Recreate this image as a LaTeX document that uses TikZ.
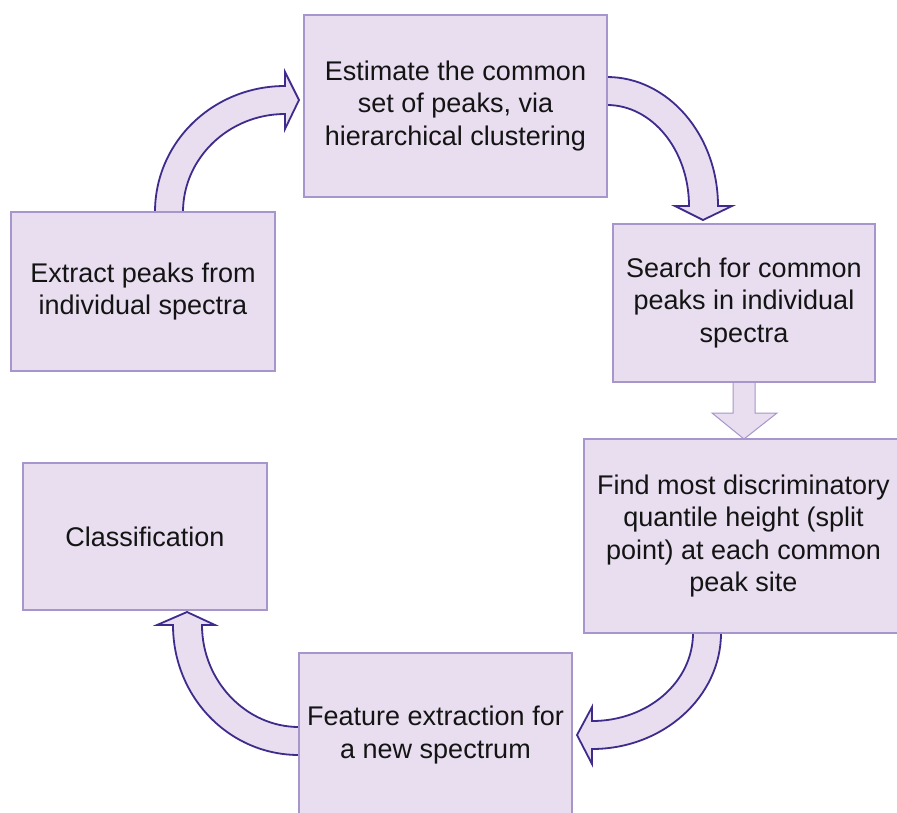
\documentclass[tikz,border=0pt]{standalone}
\usepackage{fontspec}
\setmainfont{Liberation Sans}
\definecolor{boxfill}{HTML}{E8DEEF}
\definecolor{boxline}{HTML}{A796CB}
\definecolor{arrline}{HTML}{3F2B8C}
\tikzset{
  stepbox/.style={draw=boxline, line width=1.4pt, fill=boxfill, inner sep=0pt,
    align=center, text=black!92, font={\fontsize{27}{32.5}\selectfont}},
  bigarrow/.style={draw=arrline, line width=1.8pt, fill=boxfill, line join=miter},
  straightarrow/.style={draw=boxline, line width=1pt, fill=boxfill}
}
\begin{document}
\begin{tikzpicture}[x=1pt, y=-1pt]
\clip (0,0) rectangle (897,812);
\fill[white] (0,0) rectangle (897,812);
% curved arrows (drawn first, boxes cover their roots)
\draw[bigarrow] (155,216) -- (155,212) .. controls (155,142) and (213,86) .. (285,86)
  -- (285,72) -- (299,100) -- (285,129) -- (285,114)
  .. controls (229,114) and (183,158) .. (183,212) -- (183,216);
\draw[bigarrow] (603,77) -- (607,77) .. controls (668,77) and (718,135) .. (718,206)
  -- (732,206) -- (703,220) -- (675,206) -- (689,206)
  .. controls (689,150) and (652,105) .. (607,105) -- (603,105);
\draw[bigarrow] (693,629) -- (693,633) .. controls (693,682) and (648,721) .. (592,721)
  -- (592,707) -- (577,735) -- (592,764) -- (592,749)
  .. controls (663,749) and (721,697) .. (721,633) -- (721,629);
\draw[bigarrow] (303,727) -- (299,727) .. controls (246,727) and (202,681) .. (202,625)
  -- (215,625) -- (187,612) -- (157,625) -- (173,625)
  .. controls (173,697) and (229,755) .. (299,755) -- (303,755);
\draw[straightarrow] (733,380) -- (755,380) -- (755,413) -- (777,413) -- (744,439)
  -- (712,413) -- (733,413) -- cycle;
% boxes
\node[stepbox, minimum width=303pt, minimum height=182pt] (est) at (455.5,106)
  {Estimate the common\\set of peaks, via\\hierarchical clustering};
\node[stepbox, minimum width=264pt, minimum height=159pt] (ext) at (143,291.5)
  {Extract peaks from\\individual spectra};
\node[stepbox, minimum width=262pt, minimum height=158pt] (srch) at (744,303)
  {Search for common\\peaks in individual\\spectra};
\node[stepbox, minimum width=319pt, minimum height=194pt] (find) at (743.5,536)
  {Find most discriminatory\\quantile height (split\\point) at each common\\peak site};
\node[stepbox, minimum width=244pt, minimum height=147pt] (cls) at (145,536.5)
  {Classification};
\node[stepbox, minimum width=273pt, minimum height=164pt] (feat) at (435.5,735)
  {Feature extraction for\\a new spectrum};
\end{tikzpicture}
\end{document}
